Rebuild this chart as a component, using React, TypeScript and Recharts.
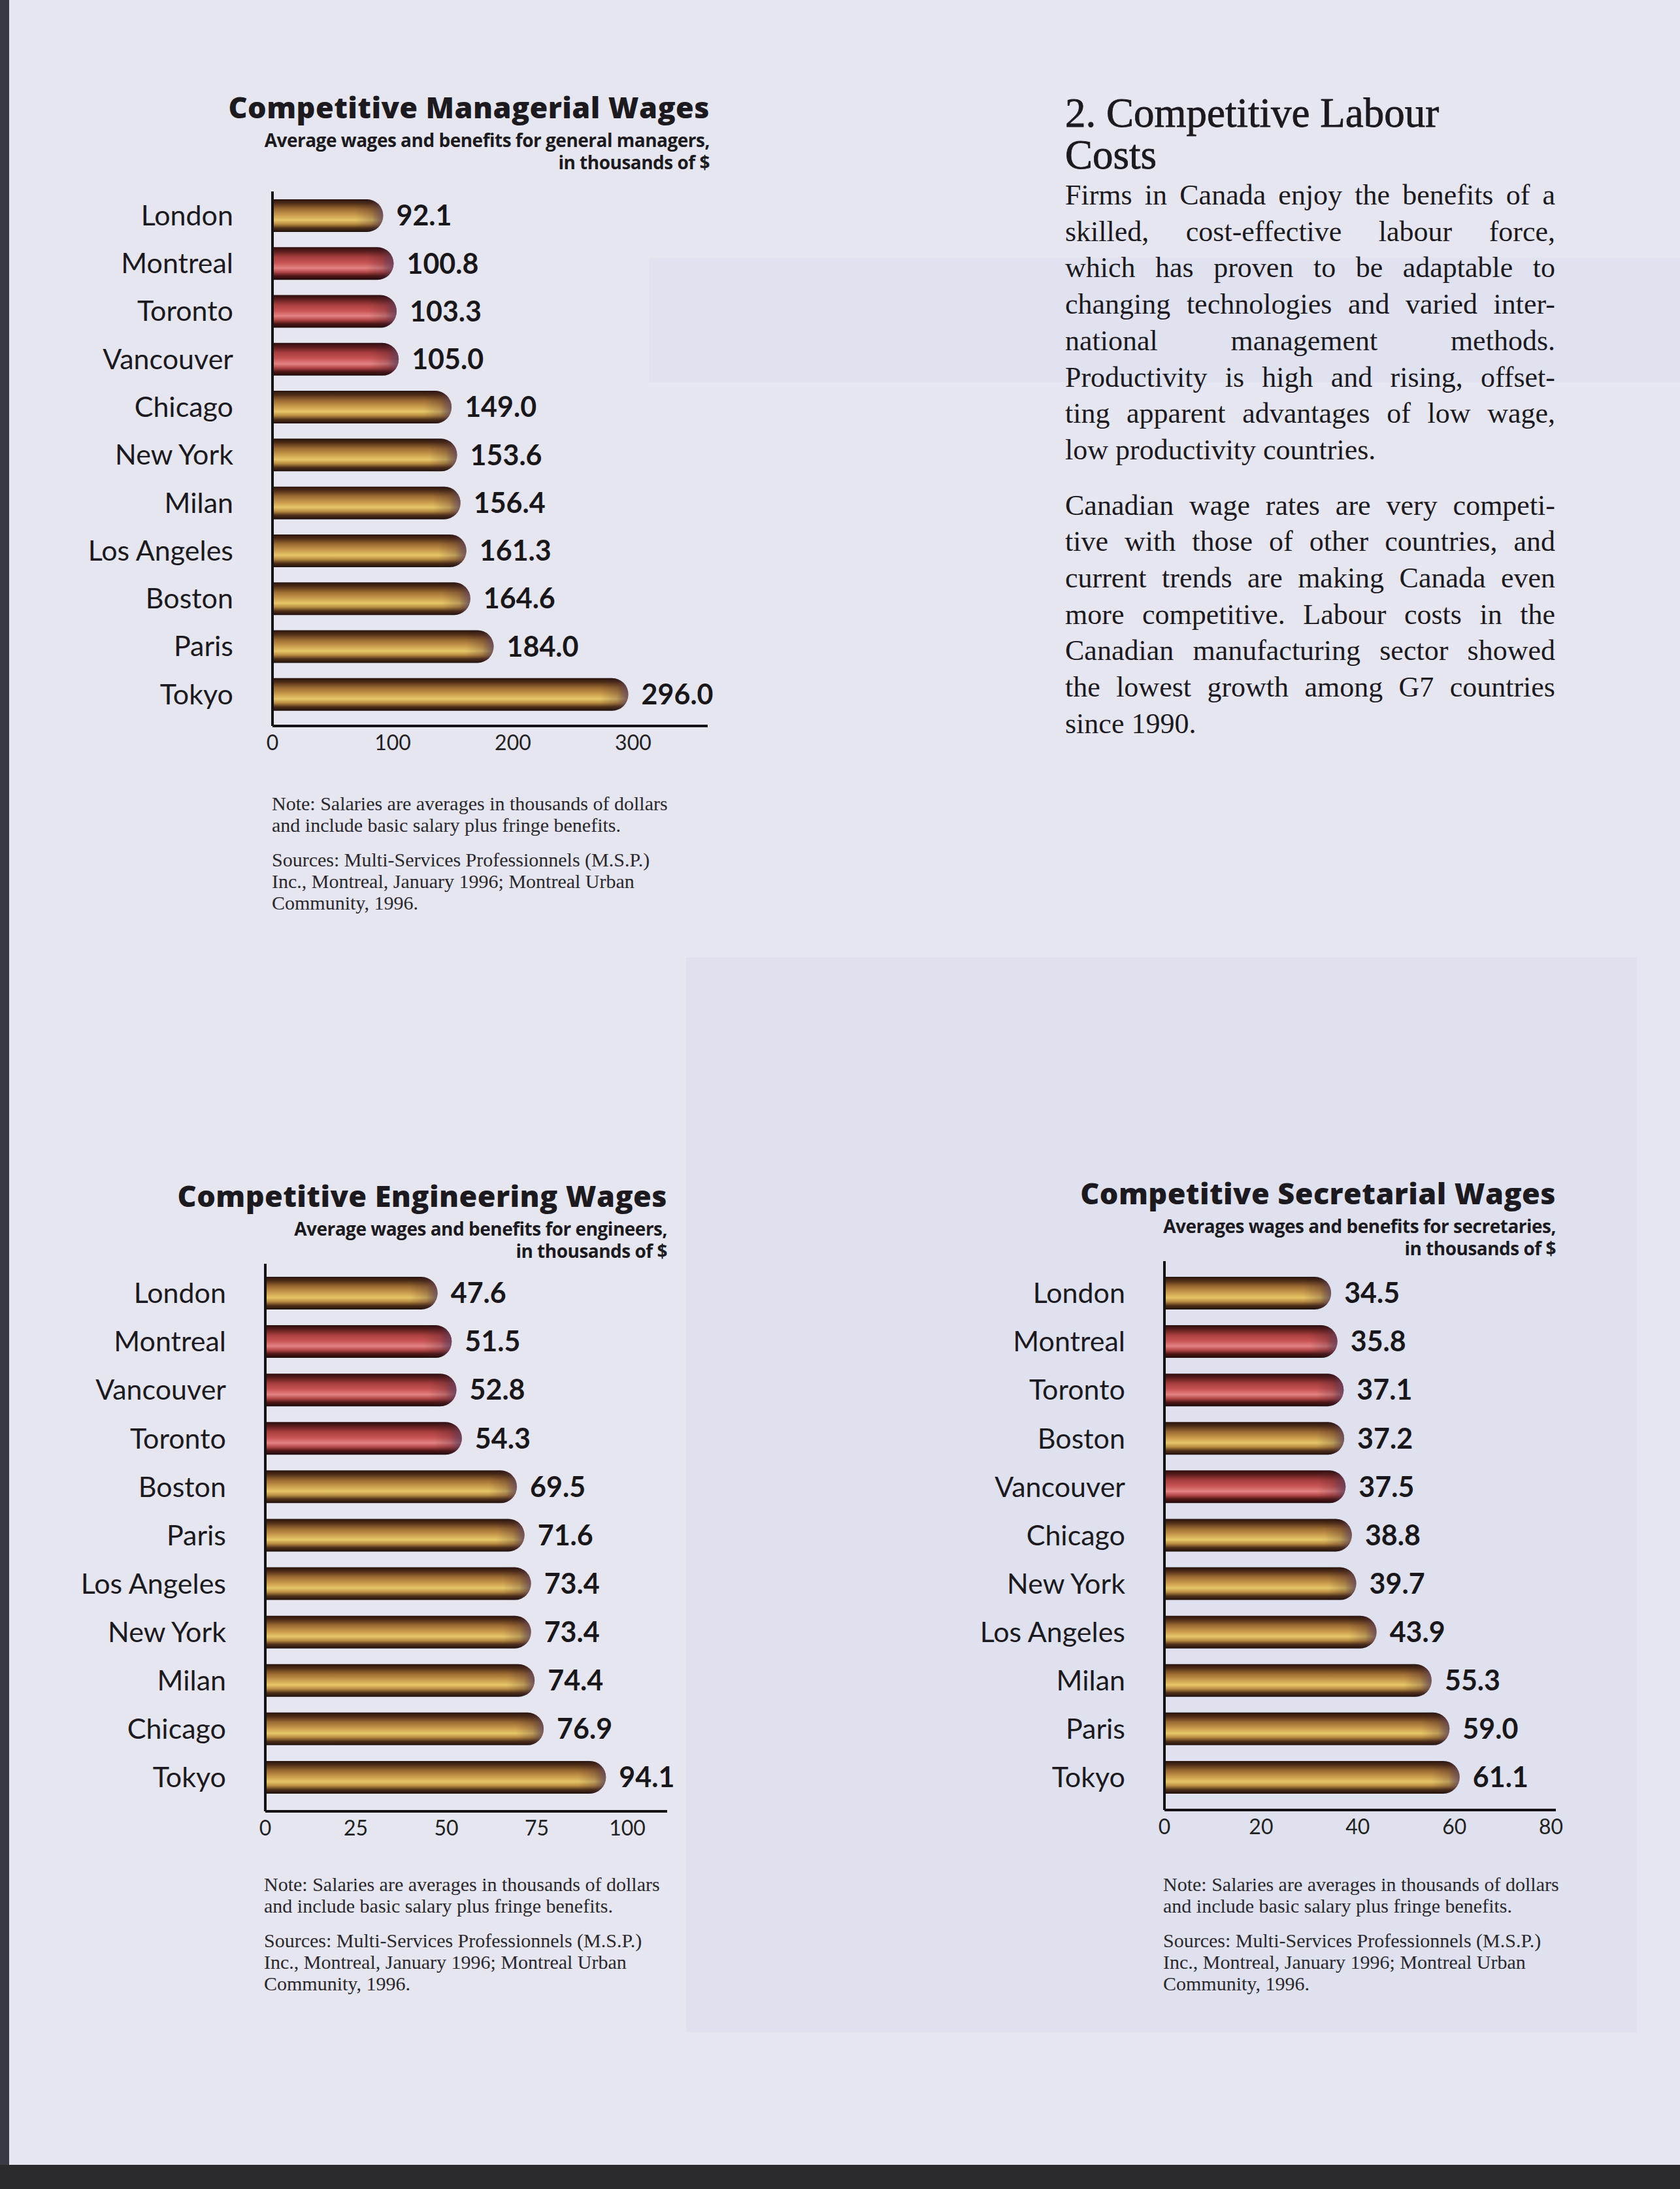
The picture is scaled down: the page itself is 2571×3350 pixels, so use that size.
import React from "react";
import { BarChart, Bar, XAxis, YAxis, Cell, LabelList } from "recharts";

// ---------- data ----------
const CANADIAN_CITIES = ["Montreal", "Toronto", "Vancouver"];

const managerialCities = ["London", "Montreal", "Toronto", "Vancouver", "Chicago", "New York", "Milan", "Los Angeles", "Boston", "Paris", "Tokyo"];
const managerialValues = [92.1, 100.8, 103.3, 105.0, 149.0, 153.6, 156.4, 161.3, 164.6, 184.0, 296.0];
const managerialTicks = [0, 100, 200, 300];

const engineeringCities = ["London", "Montreal", "Vancouver", "Toronto", "Boston", "Paris", "Los Angeles", "New York", "Milan", "Chicago", "Tokyo"];
const engineeringValues = [47.6, 51.5, 52.8, 54.3, 69.5, 71.6, 73.4, 73.4, 74.4, 76.9, 94.1];
const engineeringTicks = [0, 25, 50, 75, 100];

const secretarialCities = ["London", "Montreal", "Toronto", "Boston", "Vancouver", "Chicago", "New York", "Los Angeles", "Milan", "Paris", "Tokyo"];
const secretarialValues = [34.5, 35.8, 37.1, 37.2, 37.5, 38.8, 39.7, 43.9, 55.3, 59.0, 61.1];
const secretarialTicks = [0, 20, 40, 60, 80];

const noteLines = [
  "Note: Salaries are averages in thousands of dollars",
  "and include basic salary plus fringe benefits.",
];
const sourceLines = [
  "Sources: Multi-Services Professionnels (M.S.P.)",
  "Inc., Montreal, January 1996; Montreal Urban",
  "Community, 1996.",
];

const headingLines = ["2. Competitive Labour", "Costs"];
const para1 = [
  "Firms in Canada enjoy the benefits of a",
  "skilled, cost-effective labour force,",
  "which has proven to be adaptable to",
  "changing technologies and varied inter-",
  "national management methods.",
  "Productivity is high and rising, offset-",
  "ting apparent advantages of low wage,",
  "low productivity countries.",
];
const para2 = [
  "Canadian wage rates are very competi-",
  "tive with those of other countries, and",
  "current trends are making Canada even",
  "more competitive. Labour costs in the",
  "Canadian manufacturing sector showed",
  "the lowest growth among G7 countries",
  "since 1990.",
];

// ---------- styles ----------
const INK = "#1c1a1e";
const SANS = "Lato, 'Open Sans', sans-serif";
const SERIF = "'Liberation Serif', 'DejaVu Serif', serif";
const Y_AXIS_W = 320;

const BarShape = (props: any) => {
  const { x, y, width, height, fill, gid } = props;
  if (width <= 0 || height <= 0) return null;
  const r = height / 2;
  const xr = x + width - r;
  const body = `M${x},${y} H${xr} A${r},${r} 0 0 1 ${xr},${y + height} H${x} Z`;
  const cx = x + width - 1.7 * r;
  const cap = `M${cx},${y} H${xr} A${r},${r} 0 0 1 ${xr},${y + height} H${cx} Z`;
  return (
    <g>
      <path d={body} fill={fill} />
      <path d={cap} fill={`url(#cap-${gid})`} />
    </g>
  );
};

type ChartProps = {
  id: string;
  cities: string[];
  values: number[];
  domain: [number, number];
  ticks: number[];
  plotLeft: number;
  plotTop: number;
  plotWidth: number;
  plotHeight: number;
  padTop: number;
  padBottom: number;
};

const WageChart = (p: ChartProps) => {
  const data = p.cities.map((c, i) => ({ city: c, value: p.values[i] }));
  const rightExtra = 70;
  return (
    <div style={{ position: "absolute", left: p.plotLeft - Y_AXIS_W, top: p.plotTop }}>
      <BarChart
        width={Y_AXIS_W + p.plotWidth + rightExtra}
        height={p.plotHeight + 60}
        data={data}
        layout="vertical"
        margin={{ top: 0, right: rightExtra, bottom: 0, left: 0 }}
      >
        <defs>
          <linearGradient id={`gold-${p.id}`} x1="0" y1="0" x2="0" y2="1">
            <stop offset="0" stopColor="#26120d" />
            <stop offset="0.12" stopColor="#4e2c16" />
            <stop offset="0.3" stopColor="#9c6c32" />
            <stop offset="0.48" stopColor="#c99a4c" />
            <stop offset="0.64" stopColor="#e6c668" />
            <stop offset="0.76" stopColor="#b88c42" />
            <stop offset="0.88" stopColor="#4f3018" />
            <stop offset="1" stopColor="#1e0f0c" />
          </linearGradient>
          <linearGradient id={`red-${p.id}`} x1="0" y1="0" x2="0" y2="1">
            <stop offset="0" stopColor="#2a0d0d" />
            <stop offset="0.12" stopColor="#5a1c1c" />
            <stop offset="0.3" stopColor="#a83e3e" />
            <stop offset="0.48" stopColor="#c85454" />
            <stop offset="0.64" stopColor="#e48282" />
            <stop offset="0.76" stopColor="#b44848" />
            <stop offset="0.88" stopColor="#4e1616" />
            <stop offset="1" stopColor="#1e0a0a" />
          </linearGradient>
          <linearGradient id={`cap-${p.id}`} x1="0" y1="0" x2="1" y2="0">
            <stop offset="0" stopColor="#3a2030" stopOpacity="0" />
            <stop offset="0.6" stopColor="#3a2030" stopOpacity="0.25" />
            <stop offset="1" stopColor="#5a4060" stopOpacity="0.8" />
          </linearGradient>
        </defs>
        <XAxis
          type="number"
          domain={p.domain}
          ticks={p.ticks}
          height={60}
          tickLine={false}
          tickSize={0}
          tickMargin={14}
          axisLine={{ stroke: "#151215", strokeWidth: 4 }}
          tick={{ fontSize: 32, fill: "#222", fontFamily: SANS }}
        />
        <YAxis
          type="category"
          dataKey="city"
          width={Y_AXIS_W}
          interval={0}
          tickLine={false}
          tickSize={0}
          tickMargin={60}
          padding={{ top: p.padTop, bottom: p.padBottom }}
          axisLine={{ stroke: "#151215", strokeWidth: 4 }}
          tick={{ fontSize: 43, fill: INK, fontFamily: SANS }}
        />
        <Bar
          dataKey="value"
          barSize={50}
          isAnimationActive={false}
          shape={(sp: any) => <BarShape {...sp} gid={p.id} />}
        >
          {data.map((d) => (
            <Cell
              key={d.city}
              fill={CANADIAN_CITIES.includes(d.city) ? `url(#red-${p.id})` : `url(#gold-${p.id})`}
            />
          ))}
          <LabelList
            dataKey="value"
            position="right"
            offset={20}
            formatter={(v: any) => Number(v).toFixed(1)}
            fontSize={43}
            fontWeight={700}
            fontFamily={SANS}
            fill="#1a171a"
          />
        </Bar>
      </BarChart>
    </div>
  );
};

const Titles = ({ right, top, title, sub }: { right: number; top: number; title: string; sub: string[] }) => (
  <div style={{ position: "absolute", left: right - 1100, width: 1100, top, textAlign: "right", color: INK }}>
    <div style={{ fontFamily: "'Open Sans', sans-serif", fontWeight: 800, fontSize: 45, lineHeight: "58px", letterSpacing: 0.4 }}>
      {title}
    </div>
    <div style={{ height: 4 }} />
    {sub.map((s) => (
      <div key={s} style={{ fontFamily: "'Open Sans', sans-serif", fontWeight: 700, fontSize: 28, lineHeight: "34px", letterSpacing: -0.5 }}>
        {s}
      </div>
    ))}
  </div>
);

const Notes = ({ left, top }: { left: number; top: number }) => (
  <div style={{ position: "absolute", left, top, fontFamily: SERIF, fontSize: 30, color: "#2a282c", lineHeight: "33px" }}>
    {noteLines.map((l) => (
      <div key={l}>{l}</div>
    ))}
    <div style={{ height: 20 }} />
    {sourceLines.map((l) => (
      <div key={l}>{l}</div>
    ))}
  </div>
);

const JustLine = ({ text, last }: { text: string; last: boolean }) => (
  <div style={{ textAlign: last ? "left" : "justify", textAlignLast: last ? "left" : "justify", whiteSpace: "nowrap" } as any}>
    {text}
  </div>
);

export default function App() {
  return (
    <div
      style={{
        position: "absolute",
        left: 0,
        top: 0,
        width: 2571,
        height: 3350,
        background: "#e5e6ef",
        overflow: "hidden",
      }}
    >
      {/* faint page decorations */}
      <div style={{ position: "absolute", left: 1050, top: 1465, width: 1455, height: 1645, background: "#dfe2ee" }} />
      <div style={{ position: "absolute", left: 993, top: 395, width: 1578, height: 190, background: "#e0e3ef" }} />
      <div style={{ position: "absolute", left: 0, top: 0, width: 14, height: 3350, background: "#3a3a42" }} />
      <div style={{ position: "absolute", left: 0, top: 3313, width: 2571, height: 37, background: "#2b2b2e" }} />

      <Titles
        right={1086}
        top={135}
        title="Competitive Managerial Wages"
        sub={["Average wages and benefits for general managers,", "in thousands of $"]}
      />
      <WageChart
        id="mgr"
        cities={managerialCities}
        values={managerialValues}
        domain={[0, 362]}
        ticks={managerialTicks}
        plotLeft={417}
        plotTop={293}
        plotWidth={666}
        plotHeight={818}
        padTop={0}
        padBottom={12}
      />
      <Notes left={416} top={1213} />

      <Titles
        right={1021}
        top={1801}
        title="Competitive Engineering Wages"
        sub={["Average wages and benefits for engineers,", "in thousands of $"]}
      />
      <WageChart
        id="eng"
        cities={engineeringCities}
        values={engineeringValues}
        domain={[0, 111]}
        ticks={engineeringTicks}
        plotLeft={406}
        plotTop={1934}
        plotWidth={615}
        plotHeight={838}
        padTop={8}
        padBottom={15}
      />
      <Notes left={404} top={2867} />

      <Titles
        right={2381}
        top={1797}
        title="Competitive Secretarial Wages"
        sub={["Averages wages and benefits for secretaries,", "in thousands of $"]}
      />
      <WageChart
        id="sec"
        cities={secretarialCities}
        values={secretarialValues}
        domain={[0, 81]}
        ticks={secretarialTicks}
        plotLeft={1782}
        plotTop={1930}
        plotWidth={599}
        plotHeight={840}
        padTop={12}
        padBottom={13}
      />
      <Notes left={1780} top={2867} />

      {/* text block */}
      <div style={{ position: "absolute", left: 1630, top: 141, width: 760, color: INK, fontFamily: SERIF }}>
        {headingLines.map((h) => (
          <div key={h} style={{ fontSize: 63, lineHeight: "64px", WebkitTextStroke: "0.8px " + INK } as any}>
            {h}
          </div>
        ))}
      </div>
      <div style={{ position: "absolute", left: 1630, top: 271, width: 750, color: INK, fontFamily: SERIF, fontSize: 44, lineHeight: "55.7px" }}>
        {para1.map((l, i) => (
          <JustLine key={l} text={l} last={i === para1.length - 1} />
        ))}
        <div style={{ height: 29 }} />
        {para2.map((l, i) => (
          <JustLine key={l} text={l} last={i === para2.length - 1} />
        ))}
      </div>
    </div>
  );
}
